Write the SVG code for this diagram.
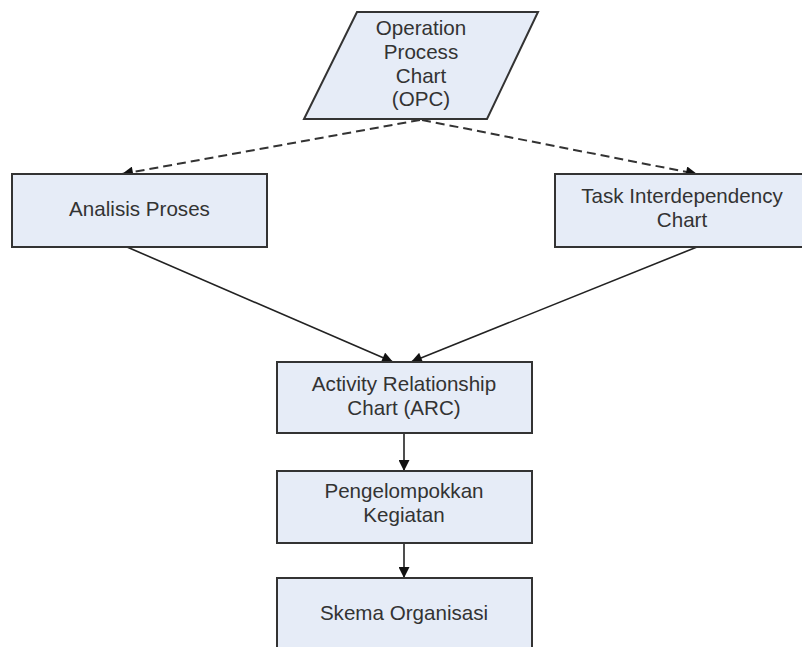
<svg xmlns="http://www.w3.org/2000/svg" width="802" height="647" viewBox="0 0 802 647">
<style>
.node{fill:#E6ECF7;stroke:#333;stroke-width:2}
.t{font-family:"Liberation Sans",Arial,sans-serif;font-size:20.6px;fill:#333;text-anchor:middle}
.c{stroke:#222;stroke-width:1.6;fill:none}
.d{stroke-dasharray:9 5;stroke-width:2;stroke:#333}
</style>
<defs>
<marker id="ah" viewBox="0 0 10 10" refX="10" refY="5" markerWidth="12" markerHeight="11" markerUnits="userSpaceOnUse" orient="auto">
<path d="M0,0 L10,5 L0,10 Z" fill="#111"/>
</marker>
</defs>
<rect width="802" height="647" fill="#fff"/>
<g id="connectors">
<path class="c d" d="M420,120 L122,174" marker-end="url(#ah)"/>
<path class="c d" d="M422,120 L697,174" marker-end="url(#ah)"/>
<path class="c" d="M127,247 L393,362" marker-end="url(#ah)"/>
<path class="c" d="M697,247 L411,362" marker-end="url(#ah)"/>
<path class="c" d="M404,433 L404,471" marker-end="url(#ah)"/>
<path class="c" d="M404,543 L404,578" marker-end="url(#ah)"/>
</g>
<g id="opc">
<polygon class="node" points="357,12 538,12 487,119 304,119"/>
<text class="t" x="421" y="35">Operation</text>
<text class="t" x="421" y="59">Process</text>
<text class="t" x="421" y="83">Chart</text>
<text class="t" x="421" y="106">(OPC)</text>
</g>
<g id="analisis">
<rect class="node" x="12" y="174" width="255" height="73"/>
<text class="t" x="139.5" y="216">Analisis Proses</text>
</g>
<g id="task">
<rect class="node" x="555" y="174" width="254" height="73"/>
<text class="t" x="682" y="203">Task Interdependency</text>
<text class="t" x="682" y="227">Chart</text>
</g>
<g id="arc">
<rect class="node" x="277" y="362" width="255" height="71"/>
<text class="t" x="404" y="391">Activity Relationship</text>
<text class="t" x="404" y="415">Chart (ARC)</text>
</g>
<g id="pengelompokkan">
<rect class="node" x="277" y="471" width="255" height="72"/>
<text class="t" x="404" y="498">Pengelompokkan</text>
<text class="t" x="404" y="522">Kegiatan</text>
</g>
<g id="skema">
<rect class="node" x="277" y="578" width="255" height="80"/>
<text class="t" x="404" y="620">Skema Organisasi</text>
</g>
</svg>
